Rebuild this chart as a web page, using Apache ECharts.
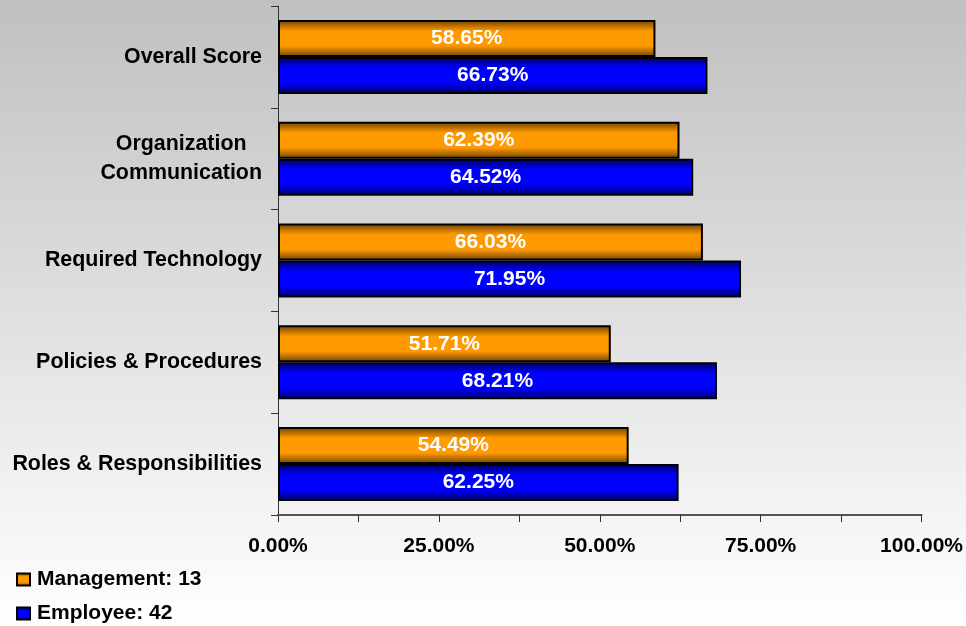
<!DOCTYPE html>
<html>
<head>
<meta charset="utf-8">
<script src="https://cdn.jsdelivr.net/npm/echarts@6/dist/echarts.min.js"></script>
<style>
  html, body { margin: 0; padding: 0; }
  #chart { width: 966px; height: 626px; }
</style>
</head>
<body>
<div id="chart"></div>
<script>
// 类目（自下而上）
var categories = ['Roles & Responsibilities', 'Policies & Procedures', 'Required Technology', 'Organization\nCommunication', 'Overall Score'];
var management = [54.49, 51.71, 66.03, 62.39, 58.65];
var employee = [62.25, 68.21, 71.95, 64.52, 66.73];
var seriesNames = ['Management: 13', 'Employee: 42'];

var FONT = 'Liberation Sans, Arial, sans-serif';

function barGrad(dark, bright) {
    return new echarts.graphic.LinearGradient(0, 0, 0, 1, [
        { offset: 0, color: dark },
        { offset: 0.3, color: bright },
        { offset: 0.7, color: bright },
        { offset: 1, color: dark }
    ]);
}

var labelStyle = {
    show: true,
    position: 'inside',
    color: '#ffffff',
    fontFamily: FONT,
    fontWeight: 'bold',
    fontSize: 21,
    formatter: function(p) { return p.value.toFixed(2) + '%'; }
};

var option = {
    animation: false,
    backgroundColor: new echarts.graphic.LinearGradient(0, 0, 0, 1, [
        { offset: 0, color: '#c0c0c0' },
        { offset: 1, color: '#ffffff' }
    ]),
    grid: { left: 278, right: 44, top: 6, bottom: 111 },
    legend: {
        orient: 'vertical',
        left: 16,
        top: 569,
        padding: 0,
        itemGap: 13,
        itemWidth: 13,
        itemHeight: 12,
        icon: 'rect',
        data: seriesNames,
        textStyle: {
            color: '#000',
            fontFamily: FONT,
            fontWeight: 'bold',
            fontSize: 21,
            padding: [0, 0, 0, 2]
        }
    },
    xAxis: {
        type: 'value',
        min: 0,
        max: 100,
        interval: 25,
        axisLine: { show: true, lineStyle: { color: '#555', width: 2 } },
        axisTick: { show: true, length: 7, lineStyle: { color: '#333' } },
        minorTick: { show: true, splitNumber: 2, length: 7, lineStyle: { color: '#333' } },
        splitLine: { show: false },
        axisLabel: {
            margin: 21,
            color: '#000',
            fontFamily: FONT,
            fontWeight: 'bold',
            fontSize: 21,
            formatter: function(v) { return v.toFixed(2) + '%'; }
        }
    },
    yAxis: {
        type: 'category',
        data: categories,
        axisLine: { show: true, lineStyle: { color: '#333', width: 1 } },
        axisTick: { show: true, length: 7, lineStyle: { color: '#333' } },
        axisLabel: {
            margin: 16,
            align: 'right',
            formatter: function(v) {
                return v.split('\n').map(function(s) { return '{c|' + s + '}'; }).join('\n');
            },
            rich: {
                c: {
                    color: '#000',
                    fontFamily: FONT,
                    fontWeight: 'bold',
                    fontSize: 21.4,
                    lineHeight: 29,
                    align: 'center'
                }
            }
        }
    },
    series: [{
        name: seriesNames[0],
        type: 'bar',
        data: management,
        barWidth: 37,
        barGap: '0%',
        itemStyle: { color: barGrad('#6e4200', '#ff9900'), borderColor: '#000', borderWidth: 2 },
        label: labelStyle
    }, {
        name: seriesNames[1],
        type: 'bar',
        data: employee,
        barWidth: 37,
        barGap: '0%',
        itemStyle: { color: barGrad('#000060', '#0000ff'), borderColor: '#000', borderWidth: 2 },
        label: labelStyle
    }]
};

var myChart = echarts.init(document.getElementById('chart'));
myChart.setOption(option);
</script>
</body>
</html>
